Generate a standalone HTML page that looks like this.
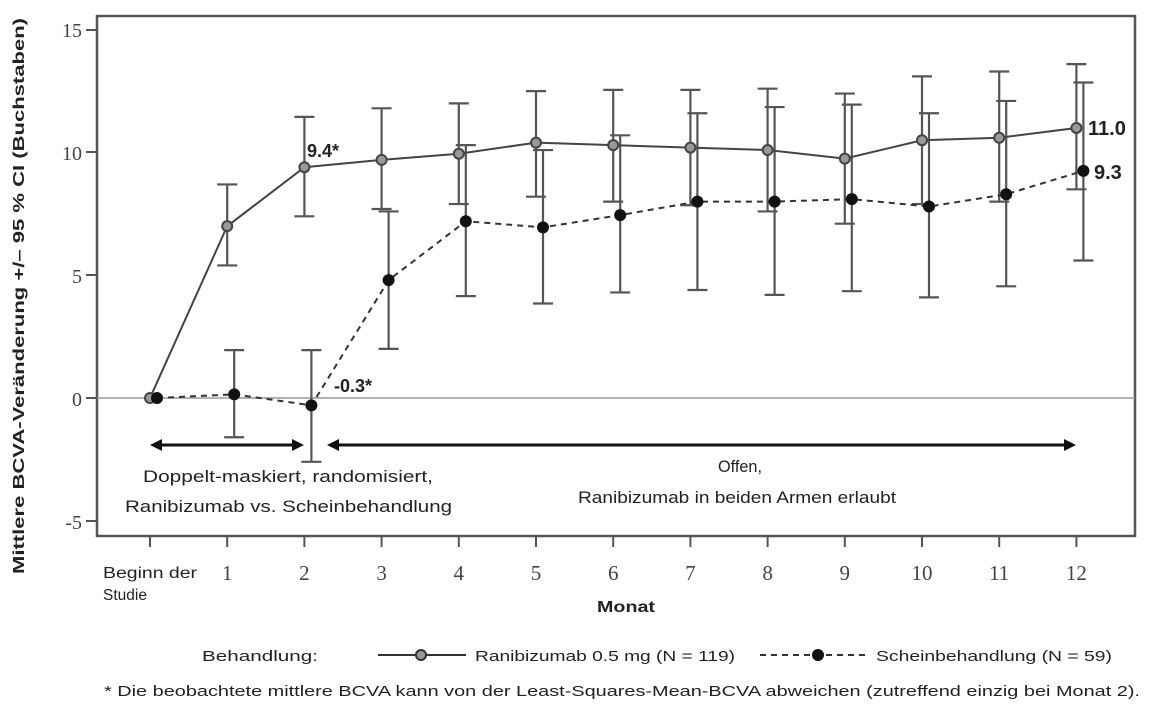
<!DOCTYPE html>
<html><head><meta charset="utf-8"><style>
body{margin:0;background:#fff;width:1150px;height:714px;overflow:hidden}
svg{display:block}
text{font-family:"Liberation Sans",sans-serif;fill:#222}
.ser{font-family:"Liberation Serif",serif;fill:#444}
</style></head><body>
<svg id="s" width="1150" height="714" xmlns="http://www.w3.org/2000/svg">
<rect x="97" y="16" width="1038" height="520" fill="none" stroke="#555" stroke-width="2.5"/>
<line x1="97" y1="398" x2="1135" y2="398" stroke="#999" stroke-width="1.5"/>
<g class="ser" font-size="20" text-anchor="end">
<text class="ser" x="82" y="37">15</text>
<text class="ser" x="82" y="160">10</text>
<text class="ser" x="82" y="283">5</text>
<text class="ser" x="82" y="406">0</text>
<text class="ser" x="82" y="529">-5</text>
</g>
<g stroke="#555" stroke-width="2">
<line x1="86" y1="30" x2="97" y2="30"/><line x1="86" y1="152" x2="97" y2="152"/><line x1="86" y1="275" x2="97" y2="275"/><line x1="86" y1="398" x2="97" y2="398"/><line x1="86" y1="521" x2="97" y2="521"/>
</g>
<g id="xt"></g>
<text x="-574" y="24" font-size="15.5" font-weight="bold" transform="rotate(-90)" textLength="556" lengthAdjust="spacingAndGlyphs">Mittlere BCVA-Veränderung +/– 95 % CI (Buchstaben)</text>
<text x="103" y="578" font-size="15.5" textLength="94" lengthAdjust="spacingAndGlyphs">Beginn der</text>
<text x="103" y="600" font-size="15.5">Studie</text>
<text x="597" y="612" font-size="16" font-weight="bold" textLength="58" lengthAdjust="spacingAndGlyphs">Monat</text>
<g id="err"></g>
<g stroke="#111" stroke-width="3" fill="#111">
<line x1="158" y1="445" x2="296" y2="445"/>
<polygon points="150,445 162,439 162,451" stroke="none"/><polygon points="304,445 292,439 292,451" stroke="none"/>
<line x1="335" y1="445" x2="1068" y2="445"/>
<polygon points="327,445 339,439 339,451" stroke="none"/><polygon points="1076,445 1064,439 1064,451" stroke="none"/>
</g>
<text x="143" y="482" font-size="17" textLength="290" lengthAdjust="spacingAndGlyphs">Doppelt-maskiert, randomisiert,</text>
<text x="125" y="512" font-size="17" textLength="327" lengthAdjust="spacingAndGlyphs">Ranibizumab  vs. Scheinbehandlung</text>
<text x="718" y="472" font-size="17" textLength="44" lengthAdjust="spacingAndGlyphs">Offen,</text>
<text x="578" y="503" font-size="17" textLength="318" lengthAdjust="spacingAndGlyphs">Ranibizumab  in beiden Armen erlaubt</text>
<text x="307" y="157" font-size="18" font-weight="bold">9.4*</text>
<text x="334" y="392" font-size="18" font-weight="bold">-0.3*</text>
<text x="1088" y="135" font-size="20" font-weight="bold">11.0</text>
<text x="1094" y="179" font-size="20" font-weight="bold">9.3</text>
<text x="202" y="661" font-size="15" textLength="116" lengthAdjust="spacingAndGlyphs">Behandlung:</text>
<line x1="378" y1="655" x2="466" y2="655" stroke="#333" stroke-width="2"/>
<circle cx="421" cy="655" r="5" fill="#999" stroke="#333" stroke-width="2"/>
<text x="475" y="661" font-size="15" textLength="260" lengthAdjust="spacingAndGlyphs">Ranibizumab  0.5 mg (N = 119)</text>
<line x1="760" y1="655" x2="868" y2="655" stroke="#333" stroke-width="2" stroke-dasharray="6,5"/>
<circle cx="818" cy="655" r="6" fill="#111"/>
<text x="876" y="661" font-size="15" textLength="236" lengthAdjust="spacingAndGlyphs">Scheinbehandlung (N = 59)</text>
<text x="104" y="696" font-size="14.3" textLength="1036" lengthAdjust="spacingAndGlyphs">* Die beobachtete mittlere BCVA kann von der Least-Squares-Mean-BCVA  abweichen (zutreffend einzig bei Monat 2).</text>
</svg>
<script>
var NS="http://www.w3.org/2000/svg",s=document.getElementById("s");
function el(t,a,p){var e=document.createElementNS(NS,t);for(var k in a)e.setAttribute(k,a[k]);(p||s).appendChild(e);return e;}
function X(m){return 150+77.2*m}function Y(v){return 398-24.55*v}
var xt=document.getElementById("xt");
for(var m=0;m<=12;m++){el("line",{x1:X(m),y1:536,x2:X(m),y2:547,stroke:"#555","stroke-width":2},xt);
if(m>0){var t=el("text",{x:X(m),y:580,"font-size":21,"text-anchor":"middle","class":"ser"},xt);t.textContent=m;}}
var R=[[0,0,0],[7.0,5.4,8.7],[9.4,7.4,11.45],[9.7,7.7,11.8],[9.95,7.9,12.0],[10.4,8.2,12.5],[10.3,8.0,12.55],[10.2,7.85,12.55],[10.1,7.6,12.6],[9.75,7.1,12.4],[10.5,7.9,13.1],[10.6,8.0,13.3],[11.0,8.5,13.6]];
var S=[[0,0,0],[0.15,-1.6,1.95],[-0.3,-2.6,1.95],[4.8,2.0,7.6],[7.2,4.15,10.3],[6.95,3.85,10.1],[7.45,4.3,10.7],[8.0,4.4,11.6],[8.0,4.2,11.85],[8.1,4.35,11.95],[7.8,4.1,11.6],[8.3,4.55,12.1],[9.25,5.6,12.85]];
var g=document.getElementById("err");
function errs(D,off){for(var i=1;i<D.length;i++){var x=X(i)+off,a=Y(D[i][1]),b=Y(D[i][2]);
el("line",{x1:x,y1:a,x2:x,y2:b,stroke:"#555","stroke-width":2.2},g);
el("line",{x1:x-10,y1:a,x2:x+10,y2:a,stroke:"#555","stroke-width":2.2},g);
el("line",{x1:x-10,y1:b,x2:x+10,y2:b,stroke:"#555","stroke-width":2.2},g);}}
errs(R,0);errs(S,7);
var p1=R.map(function(d,i){return X(i)+","+Y(d[0])}).join(" ");
var p2=S.map(function(d,i){return (X(i)+7)+","+Y(d[0])}).join(" ");
el("polyline",{points:p2,fill:"none",stroke:"#333","stroke-width":2,"stroke-dasharray":"6,5"});
el("polyline",{points:p1,fill:"none",stroke:"#444","stroke-width":2});
R.forEach(function(d,i){el("circle",{cx:X(i),cy:Y(d[0]),r:5,fill:"#999",stroke:"#444","stroke-width":2});});
S.forEach(function(d,i){el("circle",{cx:X(i)+7,cy:Y(d[0]),r:6,fill:"#111"});});
</script>
</body></html>
